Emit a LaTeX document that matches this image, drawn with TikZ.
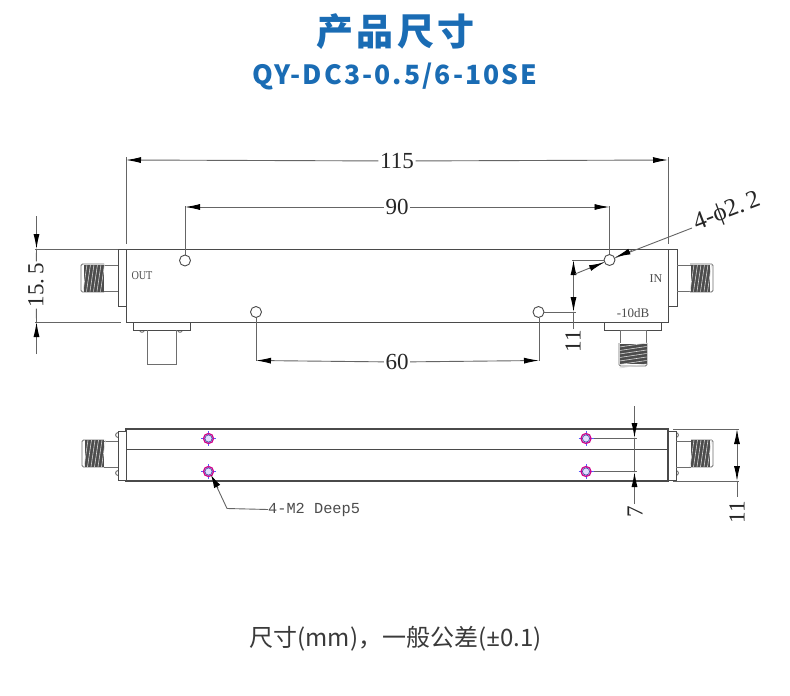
\documentclass[tikz,border=0pt]{standalone}
\usepackage{fontspec}
\usetikzlibrary{arrows.meta}
\newfontfamily\cjkfont[LetterSpace=9]{Noto Sans CJK SC}
\newfontfamily\cjkplain{Noto Sans CJK SC}
\newfontfamily\latinbold[LetterSpace=8]{Noto Sans CJK SC}
\newfontfamily\sansplain{Noto Sans}
\newfontfamily\dimfont{Liberation Serif}
\newfontfamily\monofont{Liberation Mono}
\definecolor{titleblue}{HTML}{1A6CB4}
\definecolor{ln}{HTML}{4A4A4A}
\definecolor{capt}{HTML}{3A3A3A}
\tikzset{
  part/.style={draw=ln,line width=1pt},
  thin part/.style={draw=ln!80,line width=0.9pt},
  dimline/.style={draw=ln!85,line width=0.9pt},
  dimarrow/.style={draw=ln!85,line width=0.9pt,-{Latex[length=15pt,width=6pt,black]}},
  dimarrows/.style={draw=ln!85,line width=0.9pt,{Latex[length=15pt,width=6pt,black]}-{Latex[length=15pt,width=6pt,black]}},
  dimtext/.style={font=\fontsize{23}{23}\dimfont,text=black!85,inner sep=1.5pt,fill=white},
  smalltext/.style={font=\fontsize{12}{12}\dimfont,text=black!70,inner sep=0pt},
  hole/.style={draw=ln,line width=0.9pt,fill=white,circle,minimum size=11pt,inner sep=0pt},
}
\newcommand{\hthread}[3]{%
  \fill[black!70] (#1,#3-13.5) rectangle (#2,#3+13.5);
  \foreach \t in {0,3.5,...,18}{\draw[white!85!black,line width=0.6pt] ({#1+\t+3},#3-13.5) -- ({#1+\t-1},#3+13.5);}
}
\newcommand{\vthread}[3]{%
  \fill[black!70] (#3-13.5,#1) rectangle (#3+13.5,#2);
  \foreach \t in {0,3.5,...,21}{\draw[white!85!black,line width=0.6pt] (#3-13.5,{#1+\t+3}) -- (#3+13.5,{#1+\t-1});}
}
\newcommand{\holemark}[2]{%
  \draw[blue!65!white,line width=0.8pt] (#1-7.5,#2) -- (#1+7.5,#2) (#1,#2-7.5) -- (#1,#2+7.5);
  \draw[magenta!85!blue,line width=1.3pt] (#1,#2) circle (5);
  \draw[blue!50!black!70,line width=0.7pt,fill=blue!12] (#1,#2) circle (3.6);
}
\begin{document}
\begin{tikzpicture}[x=1pt,y=-1pt]
\useasboundingbox[fill=white] (0,0) rectangle (790,696);
% titles
\node (title) at (395.5,32) {\fontsize{37}{37}\cjkfont\bfseries\color{titleblue}产品尺寸};
\node (model) at (395,77) {\fontsize{26.5}{26.5}\latinbold\bfseries\color{titleblue}QY-DC3-0.5/6-10SE};
\node (capt) at (395.5,639) {\fontsize{24}{24}\cjkplain\color{capt}尺寸(mm)，一般公差({\sansplain ±}0.1)};

% ---- top view ----
\draw[part] (126,249) rectangle (668,322);
\draw[dimline] (35,249) -- (126,249) (35,322) -- (121,322);
\draw[dimline] (126,157) -- (126,244) (668,157) -- (668,244);
\draw[dimline] (185,206) -- (185,255) (609.5,206) -- (609.5,254);
\draw[dimline] (256,318) -- (256,361) (539,318) -- (539,361);
\node[hole] (h1) at (185,260.5) {};
\node[hole] (h2) at (609.5,260) {};
\node[hole] (h3) at (256,312) {};
\node[hole] (h4) at (538.5,312) {};
% dim 115
\node[dimtext] (d115) at (397,161) {115};
\draw[dimarrow] (d115) -- (126,160);
\draw[dimarrow] (d115) -- (668,160);
% dim 90
\node[dimtext] (d90) at (397,207) {90};
\draw[dimarrow] (d90) -- (185,207);
\draw[dimarrow] (d90) -- (609.5,207);
% dim 60
\node[dimtext] (d60) at (397,362) {60};
\draw[dimarrow] (d60) -- (256,360.5);
\draw[dimarrow] (d60) -- (539,360.5);
% dim 15.5
\node[dimtext,rotate=90] (d155) at (36,285) {15.\,5};
\draw[dimarrow] (36.5,216) -- (36.5,249);
\draw[dimarrow] (36.5,354) -- (36.5,322);
\draw[dimline] (36.5,249) -- (d155) (d155) -- (36.5,322);
% dim 11 top view
\draw[dimline] (572,260) -- (h2) (h4) -- (576,312);
\draw[dimarrows] (573.5,260) -- (573.5,312);
\draw[dimline] (573.5,312) -- (573.5,329);
\node[dimtext,rotate=90,fill=none] (d11a) at (573,341) {11};
% leader 4-phi2.2
\node[font=\fontsize{25}{25}\dimfont,text=black!85,rotate=21,inner sep=0pt] (dphi) at (727,212) {4-ϕ2.\,2};
\draw[dimline] (692,228) -- (h2);
\draw[dimline] (575,274) -- (h2);
\draw[dimarrow] (632,250.5) -- (615.5,257.2);
\draw[dimarrow] (589,268.5) -- (604,262.5);
% left connector
\draw[part] (118,249) rectangle (126,306);
\draw[thin part] (118,265) -- (102,265) (118,291) -- (102,291);
\draw[thin part,rounded corners=1.5pt] (104,264) -- (81,264) -- (81,292) -- (104,292);
\hthread{84}{104}{278}
% right connector
\draw[part] (668,249) rectangle (677,306);
\draw[thin part] (677,265) -- (692,265) (677,291) -- (692,291);
\draw[thin part,rounded corners=1.5pt] (690,264) -- (713,264) -- (713,292) -- (690,292);
\hthread{691}{710}{278}
% bottom-left block
\foreach \x in {142,180}{\draw[thin part] (\x,330) circle (2.3);}
\draw[part,fill=white] (133,322) rectangle (190.5,330);
\draw[thin part] (147,330) -- (147,364) -- (176,364) -- (176,330);
% bottom-right connector
\draw[part] (604,322) rectangle (661.5,330);
\draw[thin part] (620,330) -- (620,343) (646,330) -- (646,343);
\draw[thin part] (620,330) -- (646,330);
\draw[thin part,rounded corners=1.5pt] (619,343) -- (619,366) -- (647,366) -- (647,343);
\vthread{344}{364}{633}
% labels
\node[smalltext,xscale=0.85] (out) at (142,276) {OUT};
\node[smalltext] (in) at (656,279) {IN};
\node[smalltext,font=\fontsize{13}{13}\dimfont] (db) at (633,313) {-10dB};

% ---- lower view ----
\draw[part,line width=1.5pt] (126,429) rectangle (668,481);
\draw[part,line width=1.7pt] (126,449.5) -- (668,449.5);
% left connector
\foreach \y in {435,473}{\draw[thin part] (118,\y) circle (2.4);}
\draw[part,fill=white] (118,431) rectangle (126,480);
\draw[thin part] (118,441) -- (104,441) (118,467) -- (104,467);
\draw[thin part,rounded corners=1.5pt] (104,440) -- (82,440) -- (82,467) -- (104,467);
\hthread{85}{104}{453.5}
% right connector
\foreach \y in {435,473}{\draw[thin part] (676,\y) circle (2.4);}
\draw[part,fill=white] (668,431) rectangle (676,480);
\draw[thin part] (676,441) -- (691,441) (676,467) -- (691,467);
\draw[thin part,rounded corners=1.5pt] (691,440) -- (713,440) -- (713,467) -- (691,467);
\hthread{691}{710}{453.5}
% hole lines and dim 7
\draw[dimline] (586,438.5) -- (637,438.5) (586,471.5) -- (637,471.5);
\draw[dimarrow] (634.5,406) -- (634.5,438);
\draw[dimarrow] (634.5,504) -- (634.5,472);
\draw[dimline] (634.5,438) -- (634.5,472);
\node[dimtext,rotate=90,fill=none] (d7) at (635,512) {7};
\holemark{208.5}{438.5}
\holemark{208.5}{471.5}
\holemark{586}{438.5}
\holemark{586}{471.5}
% dim 11 lower
\draw[dimline] (673,429) -- (739,429) (673,481) -- (739,481);
\draw[dimarrows] (737,429) -- (737,481);
\draw[dimline] (737,481) -- (737,497);
\node[dimtext,rotate=90,fill=none] (d11b) at (737,512) {11};
% leader 4-M2
\node[font=\fontsize{15.3}{15}\monofont,text=black!70,inner sep=0pt,anchor=west] (m2) at (268,509.5) {4-M2 Deep5};
\coordinate (knee) at (227,508.5);
\coordinate (tip) at (211,475);
\draw[dimline] (m2.west) -- (knee) -- (216,485);
\draw[draw=ln,line width=0.9pt,-{Latex[length=13pt,width=7pt,black]}] (218,488) -- (tip);
\end{tikzpicture}
\end{document}
